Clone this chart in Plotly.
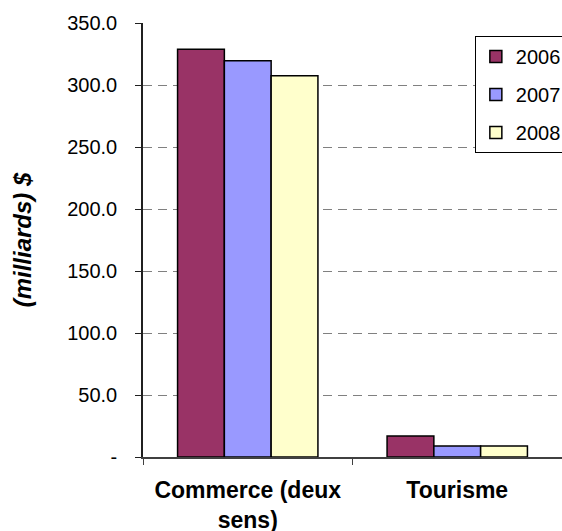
import plotly.graph_objects as go

categories = ["Commerce (deux<br>sens)", "Tourisme"]
years = ["2006", "2007", "2008"]
values_2006 = [328.8, 16.9]
values_2007 = [319.6, 8.9]
values_2008 = [307.5, 8.9]
colors = ["#993366", "#9999FF", "#FFFFCC"]
y_tickvals = [0, 50, 100, 150, 200, 250, 300, 350]
y_ticktext = ["-", "50.0", "100.0", "150.0", "200.0", "250.0", "300.0", "350.0"]

series = [values_2006, values_2007, values_2008]

fig = go.Figure()
for i, (yr, vals) in enumerate(zip(years, series)):
    fig.add_trace(go.Bar(
        x=categories, y=vals, name=yr,
        marker=dict(color=colors[i], line=dict(color="black", width=1.5)),
        legendgroup=yr,
    ))

font_family = "Liberation Sans, Arial, sans-serif"

fig.update_layout(
    width=562, height=531,
    margin=dict(l=143, r=0, t=23, b=74, autoexpand=False),
    paper_bgcolor="white", plot_bgcolor="white",
    barmode="group", bargap=0.33, bargroupgap=0,
    font=dict(family=font_family, color="black", size=20),
    showlegend=True,
    legend=dict(
        x=0.792, xanchor="left", y=0.970, yanchor="top",
        bordercolor="black", borderwidth=1, bgcolor="white",
        font=dict(size=20), tracegroupgap=9,
    ),
    xaxis=dict(
        type="category",
        showline=True, linecolor="#404040", linewidth=2,
        ticks="outside", tickson="boundaries", ticklen=6, tickcolor="#404040",
        tickfont=dict(size=23, family=font_family, weight="bold"),
        ticklabelstandoff=11,
        showgrid=False,
    ),
    xaxis2=dict(
        overlaying="x", side="top", showline=True, linecolor="#888888",
        linewidth=1.5, showticklabels=False, ticks="", showgrid=False,
    ),
    yaxis=dict(
        range=[0, 350], tickvals=y_tickvals, ticktext=y_ticktext,
        showline=True, linecolor="#202020", linewidth=1.5,
        ticks="outside", ticklen=6, tickcolor="#202020",
        ticklabelstandoff=14,
        showgrid=True, gridcolor="#808080", gridwidth=1, griddash="9px,6px",
        zeroline=False,
        title=dict(text="<b><i>(milliards) $</i></b>", font=dict(size=24), standoff=29),
    ),
)

fig.write_html(
    "out.html",
    config={"displayModeBar": False},
    post_script="document.body.style.margin='0';document.body.style.overflow='hidden';",
)
